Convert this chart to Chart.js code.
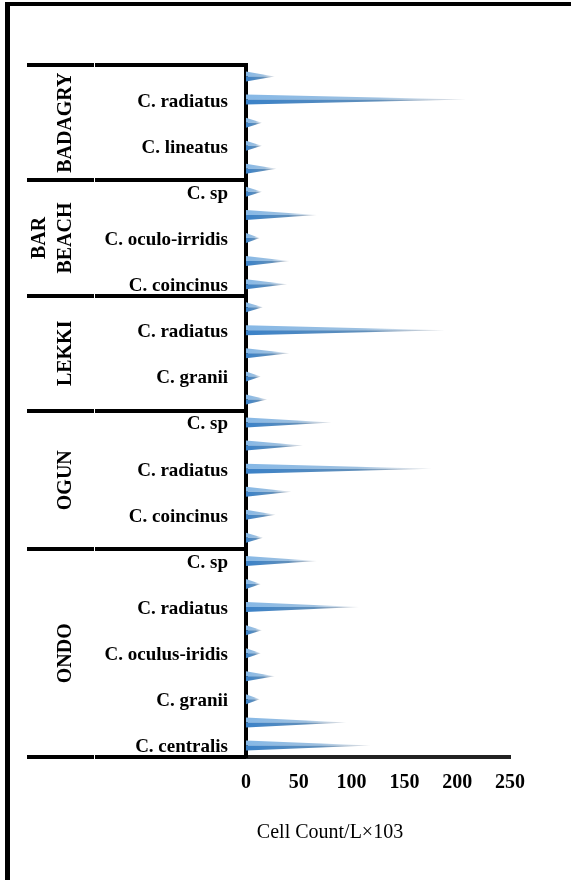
<!DOCTYPE html>
<html>
<head>
<meta charset="utf-8">
<script src="https://cdn.jsdelivr.net/npm/chart.js@4/dist/chart.umd.min.js"></script>
<style>
  html, body { margin: 0; padding: 0; background: #fff; }
  #wrap { width: 571px; height: 880px; position: relative; }
</style>
</head>
<body>
<div id="wrap"><canvas id="c" width="571" height="880"></canvas></div>
<script>
// sites top to bottom, and how many rows each one holds
const sites = [['BADAGRY'], ['BAR', 'BEACH'], ['LEKKI'], ['OGUN'], ['ONDO']];
const siteRows = [5, 5, 5, 6, 9];

// species rows, top to bottom (only every other label is printed in the source)
const species = [
  '', 'C. radiatus', '', 'C. lineatus', '',
  'C. sp', '', 'C. oculo-irridis', '', 'C. coincinus',
  '', 'C. radiatus', '', 'C. granii', '',
  'C. sp', '', 'C. radiatus', '', 'C. coincinus', '',
  'C. sp', '', 'C. radiatus', '', 'C. oculus-iridis', '', 'C. granii', '', 'C. centralis'
];

// cell count / L x10^3
const cellCount = [
  27, 209, 15, 15, 29,
  15, 67, 13, 41, 39,
  16, 189, 41, 14, 20,
  81, 54, 176, 43, 28, 16,
  67, 14, 107, 15, 14, 27, 13, 95, 118
];

const xTicks = [0, 50, 100, 150, 200, 250];
const xTitle = 'Cell Count/L\u00d7103';

const serif = '"Liberation Serif", "Times New Roman", serif';

// page frame: only top and left edges
const framePlugin = {
  id: 'frame',
  beforeDraw(chart) {
    const ctx = chart.ctx;
    ctx.save();
    ctx.fillStyle = '#fff';
    ctx.fillRect(0, 0, chart.width, chart.height);
    ctx.fillStyle = '#000';
    ctx.fillRect(5, 2, chart.width - 5, 4);
    ctx.fillRect(5, 2, 5, chart.height);
    ctx.restore();
  }
};

// cone shaped bars, drawn on the bar elements' own positions
const spikePlugin = {
  id: 'spikes',
  afterDatasetsDraw(chart) {
    const ctx = chart.ctx;
    const meta = chart.getDatasetMeta(0);
    ctx.save();
    ctx.filter = 'blur(0.5px)';
    meta.data.forEach(el => {
      const p = el.getProps(['x', 'y', 'base', 'height'], true);
      const half = p.height / 2;
      let g = ctx.createLinearGradient(p.base, 0, p.x, 0);
      g.addColorStop(0, '#86b8e6');
      g.addColorStop(0.6, '#9dc0e0');
      g.addColorStop(1, 'rgba(200,212,225,0.3)');
      ctx.fillStyle = g;
      ctx.beginPath();
      ctx.moveTo(p.base, p.y - half);
      ctx.lineTo(p.x, p.y);
      ctx.lineTo(p.base, p.y);
      ctx.closePath();
      ctx.fill();
      g = ctx.createLinearGradient(p.base, 0, p.x, 0);
      g.addColorStop(0, '#3b82c8');
      g.addColorStop(0.6, '#6290bb');
      g.addColorStop(1, 'rgba(140,150,165,0.4)');
      ctx.fillStyle = g;
      ctx.beginPath();
      ctx.moveTo(p.base, p.y);
      ctx.lineTo(p.x, p.y);
      ctx.lineTo(p.base, p.y + half);
      ctx.closePath();
      ctx.fill();
    });
    ctx.restore();
  }
};

// site group lines and rotated site names, plus the x axis title
const groupPlugin = {
  id: 'groups',
  afterDraw(chart) {
    const ctx = chart.ctx;
    const ys = chart.scales.y;
    const left = chart.chartArea.left;
    ctx.save();
    ctx.fillStyle = '#000';
    let start = 0;
    const bounds = [0];
    siteRows.forEach(n => { start += n; bounds.push(start); });
    bounds.forEach(b => {
      const y = Math.round(ys.getPixelForValue(b - 0.5));
      ctx.fillRect(27, y - 2, 67, 4);
      ctx.fillRect(95, y - 2, left - 95, 4);
    });
    ctx.font = 'bold 20px ' + serif;
    ctx.textAlign = 'center';
    ctx.textBaseline = 'middle';
    sites.forEach((lines, i) => {
      const yc = (ys.getPixelForValue(bounds[i] - 0.5) + ys.getPixelForValue(bounds[i + 1] - 0.5)) / 2;
      lines.forEach((txt, j) => {
        const xc = 65 - (lines.length - 1 - j) * 26;
        ctx.save();
        ctx.translate(xc, yc);
        ctx.rotate(-Math.PI / 2);
        ctx.fillText(txt, 0, 1);
        ctx.restore();
      });
    });
    ctx.font = '20px ' + serif;
    ctx.fillText(xTitle, 330, 833);
    ctx.restore();
  }
};

new Chart(document.getElementById('c'), {
  type: 'bar',
  data: {
    labels: species,
    datasets: [{
      data: cellCount,
      backgroundColor: 'rgba(0,0,0,0)',
      barThickness: 10
    }]
  },
  plugins: [framePlugin, spikePlugin, groupPlugin],
  options: {
    indexAxis: 'y',
    responsive: false,
    animation: false,
    layout: { padding: { top: 65, right: 61, bottom: 0, left: 0 } },
    plugins: {
      legend: { display: false },
      tooltip: { enabled: false }
    },
    scales: {
      x: {
        min: 0,
        max: 250,
        afterBuildTicks(scale) { scale.ticks = xTicks.map(v => ({ value: v })); },
        afterFit(scale) { scale.height = 123; },
        grid: { display: false, drawTicks: false },
        border: { display: true, color: '#222', width: 4 },
        ticks: {
          color: '#000',
          padding: 14,
          font: { family: serif, size: 20, weight: 'bold' }
        }
      },
      y: {
        afterFit(scale) { scale.width = 246; },
        grid: { display: false, drawTicks: false },
        border: { display: true, color: '#000', width: 4 },
        ticks: {
          autoSkip: false,
          color: '#000',
          padding: 18,
          labelOffset: 2,
          font: { family: serif, size: 19, weight: 'bold' }
        }
      }
    }
  }
});
</script>
</body>
</html>
